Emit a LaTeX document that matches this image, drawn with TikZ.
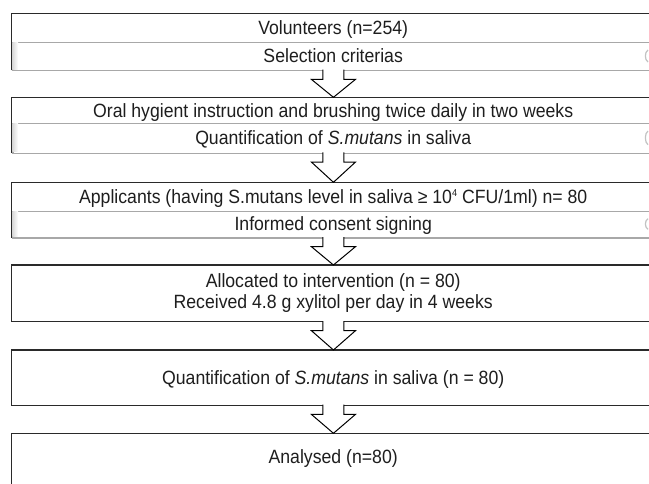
\documentclass[tikz,border=0pt]{standalone}
\usepackage{fontspec}
\setmainfont[FakeStretch=0.92]{Liberation Sans}
\usetikzlibrary{calc}
\definecolor{ink}{HTML}{1E1E1E}
\definecolor{edge}{HTML}{2A2A2A}
\definecolor{barline}{HTML}{A8A8A8}
\tikzset{
  frame/.style={draw=none, anchor=north west, inner sep=0pt, minimum width=643.5pt},
  edgeline/.style={draw=edge, line width=1.5pt},
  bar/.style={draw=barline, line width=1.3pt, fill=white, anchor=north west, inner sep=0pt, minimum width=642pt},
  txt/.style={text=ink, font=\fontsize{19.2}{22}\selectfont, inner sep=0pt, text height=13.6pt, text depth=0pt},
  blockarr/.style={draw=black, line width=1pt, fill=white, line join=miter},
}
\newcommand\blockarrow[2]{%
  \fill[white] ($(#1.south)+(-10,-2)$) rectangle ($(#1.south)+(10,9)$);
  \draw[blockarr] ($(#1.south)+(-10.5,-0.7)$) -- ($(#1.south)+(-10.5,9)$) -- ($(#1.south)+(-22,9)$) -- (#2.north)
    -- ($(#1.south)+(22,9)$) -- ($(#1.south)+(10.5,9)$) -- ($(#1.south)+(10.5,-0.7)$);
}
\newcommand\barshade[2]{% top y, bottom y
  \shade[left color=gray!30, right color=white] (12.4,#1+0.8) rectangle (18,#2-0.8);
  \draw[barline!70, line width=1.2pt] (648,#1+8) .. controls (644.5,#1+10) and (644.5,#2-10) .. (648,#2-8);
}
\newcommand\supfour{\raisebox{6.5pt}{\fontsize{10}{10}\selectfont 4}}
\begin{document}
\begin{tikzpicture}[x=1pt, y=-1pt]
\useasboundingbox (0,0) rectangle (649,483);
\clip (0,0) rectangle (649,483);
\fill[white] (0,0) rectangle (649,483);

% ---- box 1 ----
\node[frame, minimum height=56.7pt] (b1) at (11.5,13.3) {};
\node[bar, minimum height=28pt] (s1) at (12.2,42) {};
\barshade{42}{70}
\draw[edgeline] (b1.south west) -- (b1.north west) -- (b1.north east) -- (b1.south east);
\node[txt] (t1) at (333.2,27.8) {Volunteers (n=254)};
\node[txt] (u1) at (333.2,56) {Selection criterias};

% ---- box 2 ----
\node[frame, minimum height=55.4pt] (b2) at (11.5,97.3) {};
\node[bar, minimum height=29.7pt] (s2) at (12.2,123) {};
\barshade{123}{152.7}
\draw[edgeline] (b2.south west) -- (b2.north west) -- (b2.north east) -- (b2.south east);
\node[txt] (t2) at (333.2,110.5) {Oral hygient instruction and brushing twice daily in two weeks};
\node[txt] (u2) at (333.2,138) {Quantification of \textit{S.mutans} in saliva};

% ---- box 3 ----
\node[frame, minimum height=55pt] (b3) at (11.5,182.3) {};
\node[bar, minimum height=26.6pt] (s3) at (12.2,210.7) {};
\barshade{210.7}{237.3}
\draw[edgeline] (b3.south west) -- (b3.north west) -- (b3.north east) -- (b3.south east);
\node[txt] (t3) at (333.2,196.5) {Applicants (having S.mutans level in saliva ≥ 10\supfour{} CFU/1ml) n= 80};
\node[txt] (u3) at (333.2,224) {Informed consent signing};

% ---- box 4 ----
\node[frame, minimum height=56.3pt] (b4) at (11.5,265) {};
\draw[edgeline] (b4.south west) rectangle (b4.north east);
\node[txt] (t4) at (333.2,281) {Allocated to intervention (n = 80)};
\node[txt] (u4) at (333.2,302) {Received 4.8 g xylitol per day in 4 weeks};

% ---- box 5 ----
\node[frame, minimum height=55pt] (b5) at (11.5,350) {};
\draw[edgeline] (b5.south west) rectangle (b5.north east);
\node[txt] (t5) at (333.2,378) {Quantification of \textit{S.mutans} in saliva (n = 80)};

% ---- box 6 ----
\node[frame, minimum height=70pt] (b6) at (11.5,433.3) {};
\draw[edgeline] (b6.south west) rectangle (b6.north east);
\node[txt] (t6) at (333.2,457) {Analysed (n=80)};

% ---- arrows ----
\blockarrow{b1}{b2}
\blockarrow{b2}{b3}
\blockarrow{b3}{b4}
\blockarrow{b4}{b5}
\blockarrow{b5}{b6}
\end{tikzpicture}
\end{document}
